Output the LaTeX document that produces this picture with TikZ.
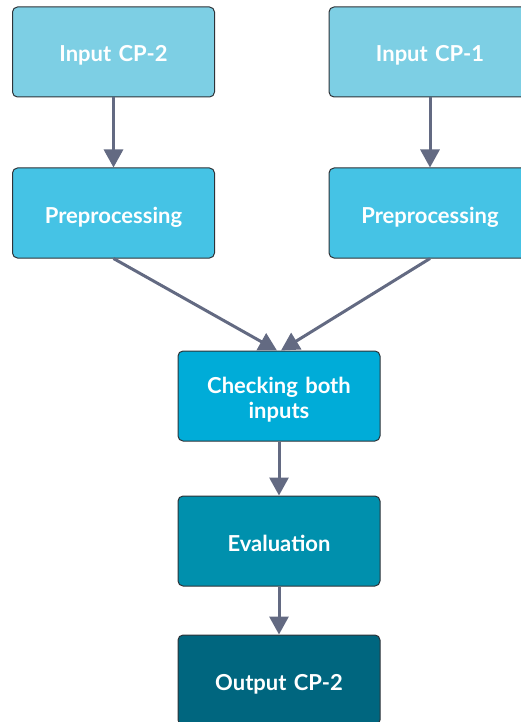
\documentclass[tikz,border=0pt]{standalone}
\usepackage{fontspec}
\setmainfont{Lato}
\usetikzlibrary{arrows.meta}
\definecolor{cIn}{HTML}{7DCFE4}
\definecolor{cPre}{HTML}{45C3E5}
\definecolor{cChk}{HTML}{00ACD8}
\definecolor{cEval}{HTML}{0090AD}
\definecolor{cOut}{HTML}{00667F}
\definecolor{cArrow}{HTML}{636A82}
\definecolor{cEdge}{HTML}{2E3338}
\tikzset{
  stagebox/.style={draw=cEdge, line width=1pt, rounded corners=5pt,
    minimum width=202pt, minimum height=90pt, inner sep=0pt,
    text=white, font=\fontsize{22pt}{25pt}\selectfont\bfseries,
    align=center, text width=190pt, text height=20pt, text depth=0pt},
  flow/.style={draw=cArrow, line width=3pt,
    -{Triangle[length=18pt, width=19pt]}}
}
\begin{document}
\begin{tikzpicture}[x=1pt, y=-1pt]
  \useasboundingbox (0,0) rectangle (521,722);
  \begin{scope}
    \clip (0,0) rectangle (521,722);
    \node[stagebox, fill=cIn]   (in2)  at (113.5,52)  {Input CP-2};
    \node[stagebox, fill=cIn]   (in1)  at (430,52)    {Input CP-1};
    \node[stagebox, fill=cPre]  (pre2) at (113.5,213) {Preprocessing};
    \node[stagebox, fill=cPre]  (pre1) at (430,213)   {Preprocessing};
    \node[stagebox, fill=cChk, text depth=26pt] (chk) at (279,396)
      {Checking both\\inputs};
    \node[stagebox, fill=cEval] (eval) at (279,541)   {Evaluation};
    \node[stagebox, fill=cOut]  (out)  at (279,680)   {Output CP-2};
    \coordinate (chkL) at ([xshift=-2pt]chk.north);
    \coordinate (chkR) at ([xshift=2pt]chk.north);
    \draw[flow] (in2.south) -- (pre2.north);
    \draw[flow] (in1.south) -- (pre1.north);
    \draw[flow] (pre2.south) -- (chkL);
    \draw[flow] (pre1.south) -- (chkR);
    \draw[flow] (chk.south) -- (eval.north);
    \draw[flow] (eval.south) -- (out.north);
  \end{scope}
\end{tikzpicture}
\end{document}
